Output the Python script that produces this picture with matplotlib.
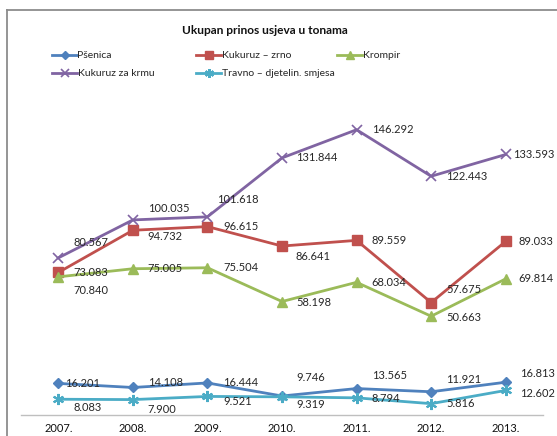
import numpy as np
import matplotlib.pyplot as plt
from matplotlib.lines import Line2D

plt.rcParams['font.family'] = ['Lato', 'DejaVu Sans']

# data
years = ['2007.', '2008.', '2009.', '2010.', '2011.', '2012.', '2013.']
psenica = [16.201, 14.108, 16.444, 9.746, 13.565, 11.921, 16.813]
kukuruz_zrno = [73.083, 94.732, 96.615, 86.641, 89.559, 57.675, 89.033]
krompir = [70.840, 75.005, 75.504, 58.198, 68.034, 50.663, 69.814]
kukuruz_krma = [80.567, 100.035, 101.618, 131.844, 146.292, 122.443, 133.593]
travno = [8.083, 7.900, 9.521, 9.319, 8.794, 5.816, 12.602]

names = ['Pšenica', 'Kukuruz – zrno', 'Krompir', 'Kukuruz za krmu',
         'Travno – djetelin. smjesa']

# label offsets in pixels (dx, dy; dy positive = down)
off_psenica = [(7, 0), (15, -5), (16, 0), (14, -18), (15, -13), (15, -12), (14, -9)]
off_zrno = [(15, 0), (15, 6), (16, 0), (14, 10), (15, 0), (15, -13), (13, 0)]
off_krompir = [(15, 14), (15, 0), (16, 0), (14, 1), (15, 0), (15, 1), (13, 0)]
off_krma = [(15, -15), (15, -11), (10, -17), (14, 0), (15, 0), (15, 0), (7, 0)]
off_travno = [(15, 8), (15, 10), (16, 5), (14, 8), (15, 1), (15, 0), (14, 3)]

styles = [
    dict(color='#4F81BD', marker='D', ms=5),
    dict(color='#C0504D', marker='s', ms=7),
    dict(color='#9BBB59', marker='^', ms=7),
    dict(color='#8064A2', marker='x', ms=7, mew=1.2),
    dict(color='#4BACC6', marker=(6, 2, 0), ms=8, mew=1.5),
]

series = [psenica, kukuruz_zrno, krompir, kukuruz_krma, travno]
offsets = [off_psenica, off_zrno, off_krompir, off_krma, off_travno]

W, H = 557, 436
fig = plt.figure(figsize=(W / 100, H / 100), dpi=100)
ax = fig.add_axes([21 / W, (H - 415) / H, 522 / W, 312 / H])

x = np.arange(len(years))
for vals, st, offs in zip(series, styles, offsets):
    ax.plot(x, vals, lw=2, clip_on=False, **st)
    for xi, v, (dx, dy) in zip(x, vals, offs):
        ax.annotate(f'{v:.3f}', (xi, v), xytext=(dx * 0.72, -dy * 0.72),
                    textcoords='offset points', ha='left', va='center',
                    fontsize=8, color='#262626', annotation_clip=False)

ax.set_xlim(-0.5, len(years) - 0.5)
ax.set_ylim(0, 160)
ax.set_yticks([])
ax.set_xticks(x)
ax.set_xticklabels(years, fontsize=8, color='#111111')
ax.tick_params(axis='x', length=0, pad=6)
for s in ['top', 'right', 'left']:
    ax.spines[s].set_visible(False)
ax.spines['bottom'].set_color('#bfbfbf')
ax.spines['bottom'].set_linewidth(1)

# chart frame
fig.add_artist(Line2D([7 / W, 7 / W], [0, (H - 10.5) / H], color='#8c8c8c',
                      lw=1.3, transform=fig.transFigure))
fig.add_artist(Line2D([7 / W, 1], [(H - 10.5) / H, (H - 10.5) / H],
                      color='#8c8c8c', lw=1.3, transform=fig.transFigure))

fig.text(265 / W, (H - 30) / H, 'Ukupan prinos usjeva u tonama',
         ha='center', va='center', fontsize=8.6, fontweight='bold', color='#111111')

# legend
leg_pos = [(52, 55), (196, 55), (337, 55), (52, 73), (196, 73)]
for name, st, (lx, ly) in zip(names, styles, leg_pos):
    yy = (H - ly) / H
    fig.add_artist(Line2D([lx / W, (lx + 25) / W], [yy, yy], color=st['color'],
                          lw=2, transform=fig.transFigure))
    mst = {k: v for k, v in st.items() if k != 'ms'}
    fig.add_artist(Line2D([(lx + 12.5) / W], [yy], ms=st['ms'] * 0.8,
                          transform=fig.transFigure, lw=0, **mst))
    fig.text((lx + 25.5) / W, yy, name, ha='left', va='center', fontsize=7.5,
             color='#262626')

fig.savefig('out.png', dpi=100)
